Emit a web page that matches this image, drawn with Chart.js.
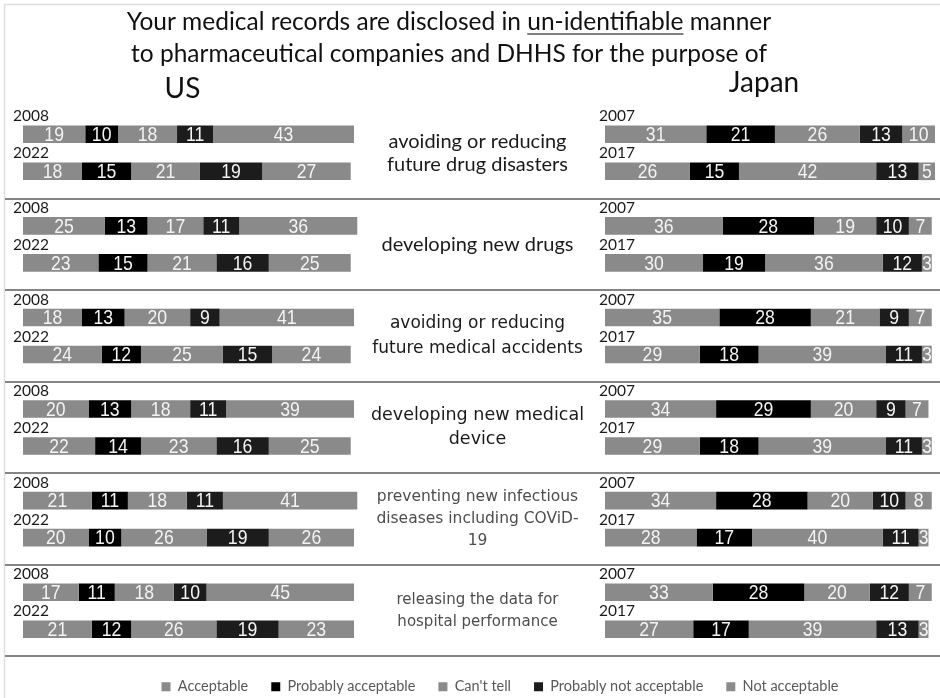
<!DOCTYPE html>
<html>
<head>
<meta charset="utf-8">
<title>Disclosure of medical records – US and Japan</title>
<script src="https://cdn.jsdelivr.net/npm/chart.js@4.4.1/dist/chart.umd.min.js"></script>
<style>
  html, body { margin: 0; padding: 0; background: #ffffff; }
  #wrap { position: relative; width: 940px; height: 698px; overflow: hidden; }
  canvas { position: absolute; left: 0; top: 0; }
</style>
</head>
<body>
<div id="wrap"><canvas id="chart" width="940" height="698"></canvas></div>
<script>
// ---------------- data ----------------
const topics = [
  ['avoiding or reducing', 'future drug disasters'],
  ['developing new drugs'],
  ['avoiding or reducing', 'future medical accidents'],
  ['developing new medical', 'device'],
  ['preventing new infectious', 'diseases including COViD-', '19'],
  ['releasing the data for', 'hospital performance']
];
const segments = ['Acceptable', 'Probably acceptable', "Can't tell", 'Probably not acceptable', 'Not acceptable'];
const usYears = ['2008', '2022'];
const jpYears = ['2007', '2017'];

// one row per topic: Acceptable, Probably acceptable, Can't tell, Probably not, Not acceptable (%)
const us2008 = [
  [19, 10, 18, 11, 43],
  [25, 13, 17, 11, 36],
  [18, 13, 20, 9, 41],
  [20, 13, 18, 11, 39],
  [21, 11, 18, 11, 41],
  [17, 11, 18, 10, 45]
];
const us2022 = [
  [18, 15, 21, 19, 27],
  [23, 15, 21, 16, 25],
  [24, 12, 25, 15, 24],
  [22, 14, 23, 16, 25],
  [20, 10, 26, 19, 26],
  [21, 12, 26, 19, 23]
];
const jp2007 = [
  [31, 21, 26, 13, 10],
  [36, 28, 19, 10, 7],
  [35, 28, 21, 9, 7],
  [34, 29, 20, 9, 7],
  [34, 28, 20, 10, 8],
  [33, 28, 20, 12, 7]
];
const jp2017 = [
  [26, 15, 42, 13, 5],
  [30, 19, 36, 12, 3],
  [29, 18, 39, 11, 3],
  [29, 18, 39, 11, 3],
  [28, 17, 40, 11, 3],
  [27, 17, 39, 13, 3]
];

// ---------------- styling / layout ----------------
const segColors = ['#8a8a8a', '#000000', '#8a8a8a', '#1c1c1c', '#8a8a8a'];
const FONT_UI = 'Lato, "Open Sans", sans-serif';
const FONT_NUM = '"Liberation Sans", Arial, sans-serif';
const FONT_WIDE = '"DejaVu Sans", sans-serif';

const CANVAS_W = 940;
const PAD = { top: 107, left: 60, right: 0, bottom: -6 };
const FULL = 101;                 // scale length of one bar
const US_SPAN = [23, 354];        // pixel span of a full US bar
const JP_SPAN = [605, 935];       // pixel span of a full Japan bar

// linear range that puts 0..FULL on the requested pixel span of the plot area
function spanRange(span) {
  const left = PAD.left, right = CANVAS_W - PAD.right;
  const unit = (span[1] - span[0]) / FULL;
  return { min: (left - span[0]) / unit, max: (right - span[0]) / unit };
}
const usRange = spanRange(US_SPAN);
const jpRange = spanRange(JP_SPAN);

function makeSets(rows, axisId, stack, year, country) {
  return segments.map((seg, s) => ({
    label: seg,
    data: rows.map(r => r[s]),
    xAxisID: axisId,
    stack: stack,
    year: year,
    country: country,
    backgroundColor: segColors[s],
    borderWidth: 0,
    clip: false,
    categoryPercentage: 0.808,
    barPercentage: 0.476
  }));
}

const datasets = [
  ...makeSets(us2008, 'xUS', 'first', usYears[0], 'US'),
  ...makeSets(us2022, 'xUS', 'second', usYears[1], 'US'),
  ...makeSets(jp2007, 'xJP', 'first', jpYears[0], 'JP'),
  ...makeSets(jp2017, 'xJP', 'second', jpYears[1], 'JP')
];

// ---------------- decorations drawn around the bars ----------------
const decorations = {
  id: 'decorations',
  beforeDatasetsDraw(chart) {
    const { ctx, scales } = chart;
    const y = scales.y;
    const band = y.getPixelForValue(1) - y.getPixelForValue(0);
    ctx.save();
    // frame edges
    ctx.strokeStyle = '#dedede';
    ctx.lineWidth = 1.5;
    ctx.beginPath();
    ctx.moveTo(4.5, chart.height);
    ctx.lineTo(4.5, 4.5);
    ctx.lineTo(chart.width, 4.5);
    ctx.stroke();
    // separators under every topic
    ctx.strokeStyle = '#858585';
    ctx.lineWidth = 2;
    topics.forEach((t, i) => {
      const py = Math.round(y.getPixelForValue(i) + band / 2);
      ctx.beginPath();
      ctx.moveTo(5, py);
      ctx.lineTo(chart.width, py);
      ctx.stroke();
    });

    // title
    ctx.fillStyle = '#111111';
    ctx.textBaseline = 'alphabetic';
    ctx.font = '24.5px ' + FONT_UI;
    const cx = 449;
    const a = 'Your medical records are disclosed in ', b = 'un-identifiable', c = ' manner';
    const wa = ctx.measureText(a).width, wb = ctx.measureText(b).width, wc = ctx.measureText(c).width;
    const x0 = cx - (wa + wb + wc) / 2;
    ctx.textAlign = 'left';
    ctx.fillText(a, x0, 30);
    ctx.fillText(b, x0 + wa, 30);
    ctx.fillText(c, x0 + wa + wb, 30);
    ctx.strokeStyle = '#555555';
    ctx.lineWidth = 1.5;
    ctx.beginPath();
    ctx.moveTo(x0 + wa, 34);
    ctx.lineTo(x0 + wa + wb, 34);
    ctx.stroke();
    ctx.textAlign = 'center';
    ctx.fillText('to pharmaceutical companies and DHHS for the purpose of', cx, 62);

    // country headers
    ctx.font = '28px ' + FONT_UI;
    ctx.fillText('US', (scales.xUS.getPixelForValue(0) + scales.xUS.getPixelForValue(FULL)) / 2 - 6, 98);
    ctx.fillText('Japan', (scales.xJP.getPixelForValue(0) + scales.xJP.getPixelForValue(FULL)) / 2 - 6, 92);

    // topic labels in the middle column
    const midX = (scales.xUS.getPixelForValue(FULL) + scales.xJP.getPixelForValue(0)) / 2 - 2;
    const topicStyle = [
      { font: '20px ' + FONT_UI, color: '#1a1a1a', lh: 23 },
      { font: '20px ' + FONT_UI, color: '#1a1a1a', lh: 23 },
      { font: '17px ' + FONT_WIDE, color: '#1a1a1a', lh: 25 },
      { font: '17.5px ' + FONT_WIDE, color: '#1a1a1a', lh: 24 },
      { font: '15.5px ' + FONT_WIDE, color: '#4d4d4d', lh: 22 },
      { font: '15px ' + FONT_WIDE, color: '#4d4d4d', lh: 22 }
    ];
    ctx.textAlign = 'center';
    ctx.textBaseline = 'middle';
    topics.forEach((lines, i) => {
      const st = topicStyle[i];
      ctx.font = st.font;
      ctx.fillStyle = st.color;
      const cy = y.getPixelForValue(i);
      lines.forEach((ln, k) => {
        ctx.fillText(ln, midX, cy + (k - (lines.length - 1) / 2) * st.lh);
      });
    });
    ctx.restore();
  },
  afterDatasetsDraw(chart) {
    const { ctx } = chart;
    ctx.save();
    // year labels above each bar
    ctx.font = '15.5px ' + FONT_UI;
    ctx.fillStyle = '#1a1a1a';
    ctx.textAlign = 'left';
    ctx.textBaseline = 'alphabetic';
    chart.data.datasets.forEach((ds, di) => {
      if (segments.indexOf(ds.label) !== 0) return;
      const meta = chart.getDatasetMeta(di);
      const dx = ds.country === 'US' ? -10 : -6;
      meta.data.forEach(el => {
        ctx.fillText(ds.year, el.base + dx, el.y - el.height / 2 - 4);
      });
    });
    // values inside segments, in a condensed face
    ctx.font = '21px ' + FONT_NUM;
    ctx.fillStyle = '#f4f4f4';
    ctx.textAlign = 'center';
    ctx.textBaseline = 'middle';
    chart.data.datasets.forEach((ds, di) => {
      const meta = chart.getDatasetMeta(di);
      meta.data.forEach((el, i) => {
        ctx.save();
        ctx.translate((el.x + el.base) / 2, el.y + 1);
        ctx.scale(0.84, 1);
        ctx.fillText(String(ds.data[i]), 0, 0);
        ctx.restore();
      });
    });
    ctx.restore();
  }
};

new Chart(document.getElementById('chart'), {
  type: 'bar',
  data: { labels: topics.map(t => t.join(' ')), datasets },
  options: {
    indexAxis: 'y',
    responsive: false,
    animation: false,
    devicePixelRatio: 1,
    layout: { padding: PAD },
    scales: {
      y: { type: 'category', display: false, stacked: true, offset: true },
      xUS: { type: 'linear', axis: 'x', position: 'bottom', display: false, stacked: true, min: usRange.min, max: usRange.max },
      xJP: { type: 'linear', axis: 'x', position: 'top', display: false, stacked: true, min: jpRange.min, max: jpRange.max }
    },
    plugins: {
      title: { display: false },
      tooltip: { enabled: false },
      legend: {
        position: 'bottom',
        labels: {
          filter: item => item.datasetIndex < segments.length,
          boxWidth: 9,
          boxHeight: 9,
          padding: 23,
          color: '#595959',
          font: { family: FONT_UI, size: 14.5 }
        }
      }
    }
  },
  plugins: [decorations]
});
</script>
</body>
</html>
